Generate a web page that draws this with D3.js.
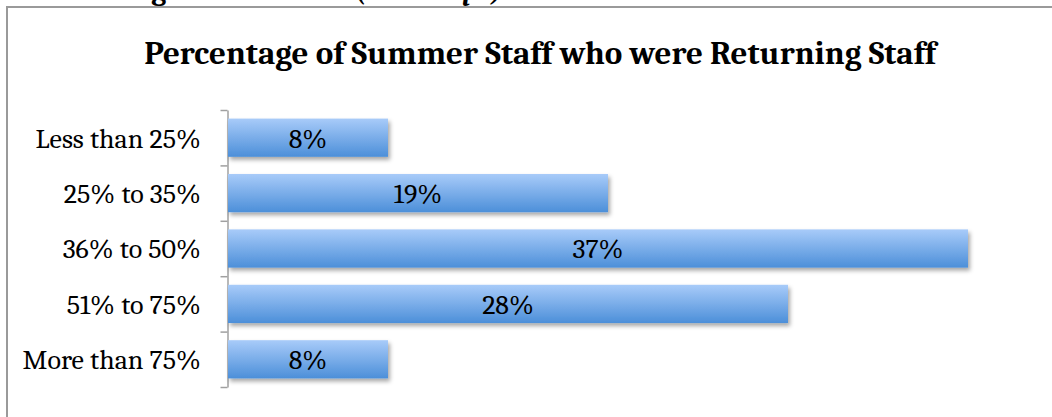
<!DOCTYPE html>
<html>
<head>
<meta charset="utf-8">
<script src="https://cdn.jsdelivr.net/npm/d3@7"></script>
<style>
  html, body { margin: 0; padding: 0; background: #fff; }
  svg { display: block; }
</style>
</head>
<body>
<svg id="chart" width="1052" height="417"></svg>
<script>
// Survey answers: share of summer staff who returned from the previous season
const categories = ["Less than 25%", "25% to 35%", "36% to 50%", "51% to 75%", "More than 75%"];
const percentValues = [8, 19, 37, 28, 8];
const chartTitle = "Percentage of Summer Staff who were Returning Staff";
const sectionHeading = "Returning Summer Staff";
const sectionNote = "(All camps)";

const svg = d3.select("#chart");
const serif = "Cambria, Caladea, 'Liberation Serif', 'DejaVu Serif', serif";

// Bar fill gradient and soft shadow
const defs = svg.append("defs");
const grad = defs.append("linearGradient")
  .attr("id", "barFill").attr("x1", 0).attr("y1", 0).attr("x2", 0).attr("y2", 1);
grad.append("stop").attr("offset", "0%").attr("stop-color", "#a8cbf9");
grad.append("stop").attr("offset", "100%").attr("stop-color", "#4c8fd9");

const shadow = defs.append("filter").attr("id", "barShadow")
  .attr("x", "-5%").attr("y", "-30%").attr("width", "115%").attr("height", "170%");
shadow.append("feDropShadow")
  .attr("dx", 2).attr("dy", 3).attr("stdDeviation", 2)
  .attr("flood-color", "#000").attr("flood-opacity", 0.35);

// Section heading of the surrounding document, running off the top edge
const heading = svg.append("text")
  .attr("x", 33).attr("y", 0)
  .attr("font-family", serif).attr("font-size", 29).attr("font-weight", "bold")
  .attr("fill", "#000");
heading.append("tspan").text(sectionHeading + " ");
heading.append("tspan").attr("font-style", "italic").text(sectionNote);

// Chart frame (left and top edges visible)
svg.append("path")
  .attr("d", "M7,417 V7 H1052")
  .attr("fill", "none").attr("stroke", "#9a9a9a").attr("stroke-width", 2);

// Title
svg.append("text")
  .attr("x", 540).attr("y", 64)
  .attr("text-anchor", "middle")
  .attr("font-family", serif).attr("font-size", 33).attr("font-weight", "bold")
  .attr("fill", "#000")
  .text(chartTitle);

// Scales
const plotTop = 110, plotBottom = 387, plotLeft = 228;
const y = d3.scaleBand()
  .domain(categories)
  .range([plotTop, plotBottom])
  .paddingInner(0.31)
  .paddingOuter(0.155);
const x = d3.scaleLinear().domain([0, 40]).range([plotLeft, plotLeft + 800]);

// Category axis: line with ticks at the band boundaries
const boundary = d3.scaleLinear().domain([0, categories.length]).range([plotTop, plotBottom]);
const axis = svg.append("g")
  .attr("transform", `translate(${plotLeft - 0.5},0)`)
  .call(d3.axisLeft(boundary)
    .tickValues(d3.range(categories.length + 1))
    .tickSize(7).tickSizeOuter(0)
    .tickFormat(""));
axis.selectAll("path, line").attr("stroke", "#a0a0a0").attr("stroke-width", 1.5);

// Category labels
svg.append("g").selectAll("text")
  .data(categories)
  .join("text")
  .attr("x", 201)
  .attr("y", d => y(d) + y.bandwidth() / 2)
  .attr("dy", "0.35em")
  .attr("text-anchor", "end")
  .attr("font-family", serif).attr("font-size", 28)
  .attr("fill", "#000")
  .text(d => d);

// Bars
const rows = categories.map((c, i) => ({ category: c, value: percentValues[i] }));
svg.append("g").selectAll("rect")
  .data(rows)
  .join("rect")
  .attr("x", x(0))
  .attr("y", d => y(d.category))
  .attr("width", d => x(d.value) - x(0))
  .attr("height", y.bandwidth())
  .attr("fill", "url(#barFill)")
  .attr("filter", "url(#barShadow)");

// Value labels centred in each bar
svg.append("g").selectAll("text")
  .data(rows)
  .join("text")
  .attr("x", d => (x(0) + x(d.value)) / 2)
  .attr("y", d => y(d.category) + y.bandwidth() / 2)
  .attr("dy", "0.35em")
  .attr("text-anchor", "middle")
  .attr("font-family", serif).attr("font-size", 28)
  .attr("fill", "#000")
  .text(d => d.value + "%");
</script>
</body>
</html>
